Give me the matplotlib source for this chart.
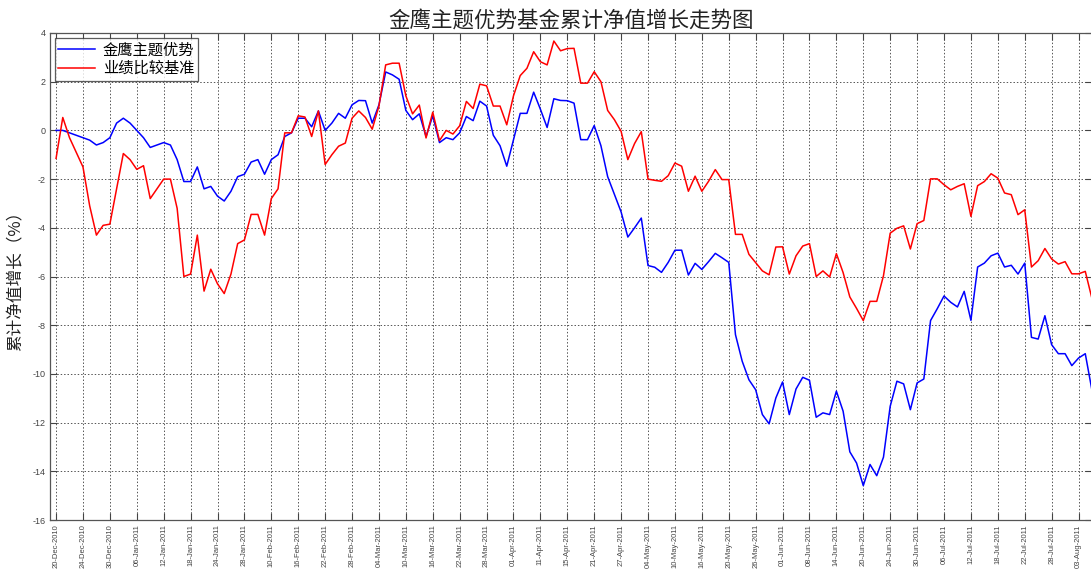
import matplotlib
matplotlib.use("Agg")
import matplotlib.pyplot as plt

plt.rcParams['font.family'] = ['Noto Sans CJK SC', 'DejaVu Sans']
plt.rcParams['axes.unicode_minus'] = False

# tick labels, one every 4 trading days
date_labels = ['20-Dec-2010', '24-Dec-2010', '30-Dec-2010', '06-Jan-2011', '12-Jan-2011',
               '18-Jan-2011', '24-Jan-2011', '28-Jan-2011', '10-Feb-2011', '16-Feb-2011',
               '22-Feb-2011', '28-Feb-2011', '04-Mar-2011', '10-Mar-2011', '16-Mar-2011',
               '22-Mar-2011', '28-Mar-2011', '01-Apr-2011', '11-Apr-2011', '15-Apr-2011',
               '21-Apr-2011', '27-Apr-2011', '04-May-2011', '10-May-2011', '16-May-2011',
               '20-May-2011', '26-May-2011', '01-Jun-2011', '08-Jun-2011', '14-Jun-2011',
               '20-Jun-2011', '24-Jun-2011', '30-Jun-2011', '06-Jul-2011', '12-Jul-2011',
               '18-Jul-2011', '22-Jul-2011', '28-Jul-2011', '03-Aug-2011']

# 金鹰主题优势 cumulative NAV growth (%)
fund = [0.0, 0.0, -0.1, -0.2, -0.3, -0.4, -0.6, -0.5, -0.3, 0.3,
        0.5, 0.3, 0.0, -0.3, -0.7, -0.6, -0.5, -0.6, -1.2, -2.1,
        -2.1, -1.5, -2.4, -2.3, -2.7, -2.9, -2.5, -1.9, -1.8, -1.3,
        -1.2, -1.8, -1.2, -1.0, -0.25, -0.1, 0.5, 0.5, 0.15, 0.8,
        0.0, 0.3, 0.7, 0.5, 1.05, 1.23, 1.22, 0.3, 1.05, 2.4,
        2.28, 2.1, 0.82, 0.44, 0.68, -0.25, 0.6, -0.5, -0.3, -0.38,
        -0.1, 0.57, 0.4, 1.2, 1.0, -0.2, -0.63, -1.47, -0.38, 0.7,
        0.7, 1.57, 0.87, 0.12, 1.3, 1.23, 1.22, 1.12, -0.38, -0.38,
        0.2, -0.63, -1.9, -2.63, -3.35, -4.38, -4.0, -3.6, -5.55, -5.62,
        -5.83, -5.42, -4.92, -4.92, -5.94, -5.46, -5.71, -5.39, -5.05, -5.23,
        -5.42, -8.39, -9.48, -10.24, -10.65, -11.67, -12.05, -10.99, -10.33, -11.67,
        -10.62, -10.14, -10.26, -11.78, -11.6, -11.67, -10.71, -11.53, -13.2, -13.66,
        -14.59, -13.72, -14.18, -13.42, -11.33, -10.3, -10.41, -11.47, -10.37, -10.21,
        -7.81, -7.32, -6.8, -7.06, -7.25, -6.61, -7.8, -5.61, -5.45, -5.15,
        -5.04, -5.61, -5.54, -5.9, -5.45, -8.5, -8.57, -7.61, -8.8, -9.17,
        -9.17, -9.66, -9.35, -9.17, -10.68]

# 业绩比较基准 (%)
bench = [-1.15, 0.53, -0.3, -0.9, -1.5, -3.1, -4.3, -3.9, -3.85, -2.4,
         -0.95, -1.2, -1.6, -1.45, -2.8, -2.4, -2.0, -2.0, -3.2, -6.0,
         -5.9, -4.3, -6.6, -5.7, -6.3, -6.7, -5.9, -4.65, -4.5, -3.45,
         -3.45, -4.3, -2.8, -2.4, -0.1, -0.1, 0.6, 0.55, -0.25, 0.8,
         -1.4, -1.0, -0.65, -0.52, 0.5, 0.8, 0.53, 0.05, 1.0, 2.69,
         2.76, 2.76, 1.42, 0.68, 1.04, -0.31, 0.75, -0.42, 0.0, -0.15,
         0.19, 1.19, 0.9, 1.9, 1.83, 1.0, 1.0, 0.23, 1.42, 2.25,
         2.55, 3.23, 2.82, 2.69, 3.67, 3.27, 3.36, 3.37, 1.94, 1.94,
         2.41, 2.0, 0.82, 0.44, -0.04, -1.2, -0.54, -0.05, -2.0, -2.05,
         -2.09, -1.86, -1.34, -1.47, -2.5, -1.88, -2.5, -2.09, -1.61, -2.02,
         -2.02, -4.27, -4.27, -5.09, -5.43, -5.77, -5.93, -4.79, -4.78, -5.9,
         -5.15, -4.75, -4.65, -6.0, -5.77, -6.02, -5.06, -5.84, -6.84, -7.31,
         -7.81, -7.02, -7.02, -5.97, -4.22, -4.02, -3.92, -4.87, -3.83, -3.7,
         -1.99, -1.99, -2.23, -2.44, -2.3, -2.19, -3.53, -2.27, -2.1, -1.78,
         -1.96, -2.57, -2.64, -3.46, -3.26, -5.61, -5.35, -4.85, -5.28, -5.49,
         -5.39, -5.89, -5.89, -5.79, -6.91]

x = list(range(len(fund)))

fig = plt.figure(figsize=(10.91, 5.71), dpi=100)
ax = fig.add_axes([50 / 1091, 51 / 571, 1042 / 1091, 487 / 571])

ax.plot(x, fund, color='#0000ff', lw=1.1, label='金鹰主题优势')
ax.plot(x, bench, color='#ff0000', lw=1.1, label='业绩比较基准')

ax.set_xlim(-0.9, 154)
ax.set_ylim(-16, 4)
ax.set_yticks(range(-16, 5, 2))
ax.set_xticks(range(0, 4 * len(date_labels), 4))
ax.set_xticklabels(date_labels, rotation=90, fontsize=5.5, family='Liberation Sans')
for t in ax.get_yticklabels():
    t.set_fontsize(6.5)
    t.set_family('Liberation Sans')

ax.tick_params(direction='in', length=5, width=0.8, colors='#444444',
               top=True, right=True, pad=3)
ax.tick_params(axis='x', pad=3)
ax.grid(True, linestyle=(0, (1.5, 2)), color='#555555', lw=0.7)
for s in ax.spines.values():
    s.set_color('#555555')
    s.set_linewidth(0.9)

ax.set_title('金鹰主题优势基金累计净值增长走势图', fontsize=15.5, pad=4, color='#222222')
ax.set_ylabel('累计净值增长（%）', fontsize=12, labelpad=6, color='#222222')

leg = ax.legend(loc='upper left', fontsize=11, frameon=True, fancybox=False,
                borderaxespad=0.3, handlelength=2.4, handletextpad=0.5,
                borderpad=0.25, labelspacing=0.1)
leg.get_frame().set_edgecolor('#333333')
leg.get_frame().set_linewidth(0.9)

fig.savefig('out.png', dpi=100, facecolor='white')
